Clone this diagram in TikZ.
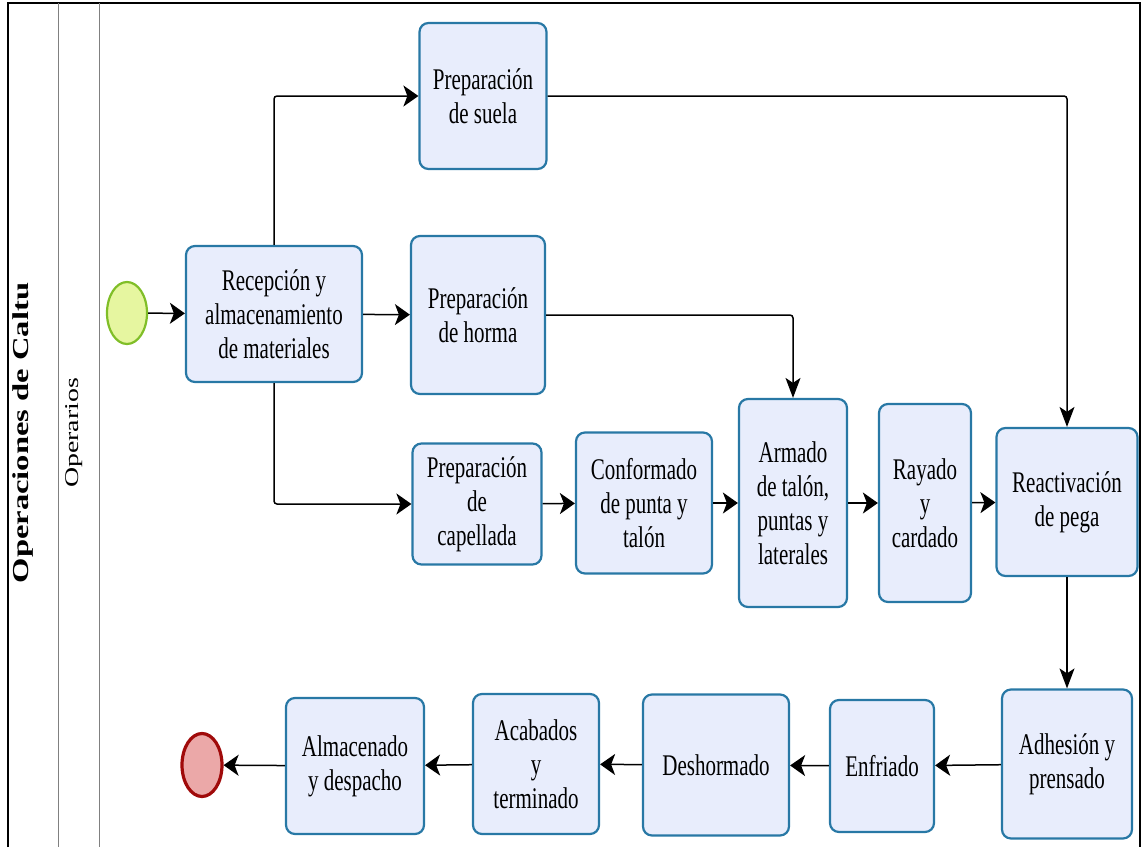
\documentclass[tikz,border=0pt]{standalone}
\usepackage{fontspec}
\setmainfont{Liberation Serif}
\newfontfamily\boxfont{Liberation Serif}[FakeStretch=0.7]
\newfontfamily\lanefont{Liberation Serif}[FakeStretch=1.43]
\usepackage{xcolor}
\usepackage{tikz}
\usetikzlibrary{arrows.meta,shapes.geometric}
\definecolor{boxfill}{RGB}{232,237,252}
\definecolor{boxline}{RGB}{40,120,165}
\definecolor{startfill}{RGB}{230,246,160}
\definecolor{startline}{RGB}{128,190,40}
\definecolor{endfill}{RGB}{235,168,168}
\definecolor{endline}{RGB}{160,10,10}

\begin{document}
\begin{tikzpicture}[
    x=1pt, y=-1pt,
    task/.style={draw=boxline, fill=boxfill, line width=2.2pt, rounded corners=9pt,
                 align=center, inner sep=2pt, font=\boxfont\fontsize{30}{34}\selectfont},
    startev/.style={ellipse, draw=startline, fill=startfill, line width=2.2pt,
                    minimum width=40, minimum height=62, inner sep=0pt},
    endev/.style={ellipse, draw=endline, fill=endfill, line width=3.2pt,
                  minimum width=40, minimum height=63, inner sep=0pt},
    arr/.style={-{Stealth[length=15pt, width=21pt, inset=4pt]}, line width=1.5pt, rounded corners=3pt},
    varr/.style={-{Stealth[length=20pt, width=15pt, inset=5pt]}, line width=1.5pt, rounded corners=3pt},
    lane/.style={draw=gray, line width=1pt},
]
\useasboundingbox (0,0) rectangle (1144,847);

% ---------------- pool and lane ----------------
\draw[line width=1.5pt] (8,847) -- (8,3) -- (1140,3) -- (1140,847);
\draw[lane] (58,3) -- (58,847);
\draw[lane] (99,3) -- (99,847);
\node[rotate=90, font=\lanefont\bfseries\fontsize{22.8}{24}\selectfont] (pool) at (23,433) {Operaciones de Caltu};
\node[rotate=90, font=\lanefont\fontsize{19.5}{21}\selectfont] (crew) at (74,433) {Operarios};

% ---------------- upper part ----------------
\node[startev] (start) at (127,313) {};
\node[task, minimum width=176, minimum height=136] (rec) at (274,314) {Recepción y\\almacenamiento\\de materiales};
\node[task, minimum width=127, minimum height=146] (suela) at (483,96) {Preparación\\de suela};
\node[task, minimum width=134, minimum height=158] (horma) at (478,315) {Preparación\\de horma};
\node[task, minimum width=129, minimum height=121] (cap) at (477,504) {Preparación\\de\\capellada};
\node[task, minimum width=136, minimum height=141] (conf) at (644,503) {Conformado\\de punta y\\talón};
\node[task, minimum width=108, minimum height=208] (arm) at (793,503) {Armado\\de talón,\\puntas y\\laterales};
\node[task, minimum width=92, minimum height=198] (ray) at (925,503) {Rayado\\y\\cardado};
\node[task, minimum width=141, minimum height=148] (reac) at (1067,502) {Reactivación\\de pega};

% ---------------- lower row ----------------
\node[task, minimum width=130, minimum height=149] (adh) at (1067,764) {Adhesión y\\prensado};
\node[task, minimum width=104, minimum height=132] (enf) at (882,766) {Enfriado};
\node[task, minimum width=146, minimum height=141] (desh) at (716,765) {Deshormado};
\node[task, minimum width=126, minimum height=140] (acab) at (536,764) {Acabados\\y\\terminado};
\node[task, minimum width=138, minimum height=136] (alm) at (355,766) {Almacenado\\y despacho};
\node[endev] (fin) at (202,765) {};

% ---------------- connectors ----------------
\draw[arr] (start) -- (rec);
\draw[arr] (rec) -- (horma);
\draw[arr] (rec.north) |- (suela);
\draw[arr] (rec.south) |- (cap);
\draw[varr] (horma.east) -| (arm.north);
\draw[varr] (suela.east) -| (reac.north);
\draw[arr] (cap) -- (conf);
\draw[arr] (conf) -- (arm);
\draw[arr] (arm) -- (ray);
\draw[arr] (ray) -- (reac);
\draw[varr] (reac) -- (adh);
\draw[arr] (adh) -- (enf);
\draw[arr] (enf) -- (desh);
\draw[arr] (desh) -- (acab);
\draw[arr] (acab) -- (alm);
\draw[arr] (alm) -- (fin);
\end{tikzpicture}
\end{document}
